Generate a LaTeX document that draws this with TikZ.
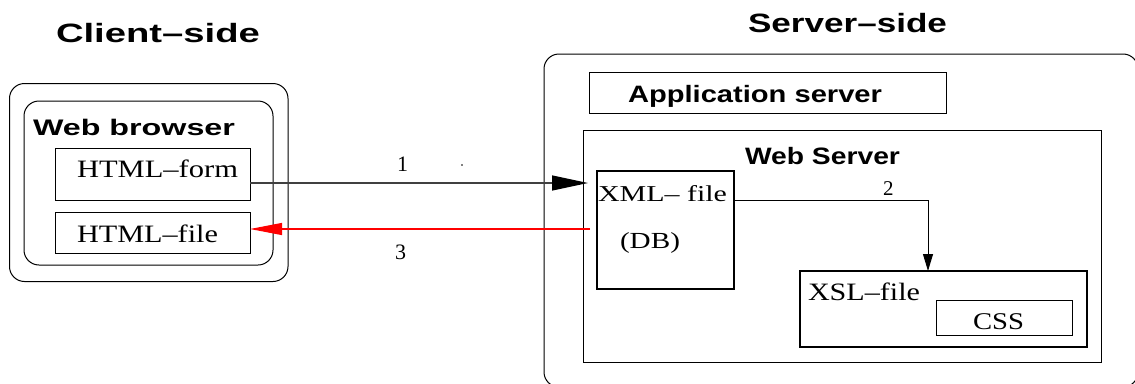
\documentclass[tikz,border=0pt]{standalone}
\usepackage{fontspec}
\setmainfont{Liberation Serif}
\newfontfamily\hvsans{Liberation Sans}
\usepackage{graphicx}
\usetikzlibrary{arrows.meta}
% stretch a label horizontally to a given width (in pt), keeping its height
\newcommand\widetext[2]{\resizebox{#1pt}{\height}{#2}}

\begin{document}
\begin{tikzpicture}[x=1pt,y=-1pt,
  box/.style={draw, line width=1pt, inner sep=0pt, outer sep=0pt},
  roundbox/.style={box, rounded corners=15pt},
  thickbox/.style={box, line width=2.5pt},
  lbl/.style={inner sep=0pt, outer sep=0pt, anchor=base west},
  head/.style={lbl, font=\hvsans\bfseries\fontsize{#1pt}{#1pt}\selectfont},
  serif/.style={lbl, font=\fontsize{#1pt}{#1pt}\selectfont},
  request/.style={draw=black!75, line width=1.3pt,
    -{Triangle[length=36pt,width=15pt,fill=black,color=black]}},
  reply/.style={draw=red, line width=1.2pt,
    -{Triangle[length=32pt,width=12pt]}},
  transform/.style={draw=black, line width=1pt,
    -{Triangle[length=17pt,width=10pt]}}
]
\useasboundingbox (0,0) rectangle (1135,383);
\clip (0,0) rectangle (1135,383);

% ---------------- client side ----------------
\node[head=26.5] (clienttitle) at (56,42) {\widetext{204}{Client–side}};
\node[roundbox, minimum width=278.5pt, minimum height=198pt] (client) at (148.75,182.5) {};
\node[roundbox, minimum width=249pt, minimum height=164pt] (browser) at (148.5,183) {};
\node[head=22.5] (browsertitle) at (33,135) {\widetext{202}{Web browser}};
\node[box, minimum width=195pt, minimum height=52pt] (form) at (152.5,174) {};
\node[serif=25] (formtext) at (77,177) {\widetext{161}{HTML–form}};
\node[box, minimum width=195pt, minimum height=41pt] (file) at (152.5,232.5) {};
\node[serif=25] (filetext) at (77,242) {\widetext{141}{HTML–file}};

% ---------------- server side ----------------
\node[head=26.5] (servertitle) at (748,32) {\widetext{199}{Server–side}};
\node[roundbox, minimum width=594pt, minimum height=333pt] (server) at (841,220.5) {};
\node[box, minimum width=357pt, minimum height=41pt] (app) at (767.5,92.5) {};
\node[head=23.7] (apptext) at (628,102) {\widetext{254}{Application server}};
\node[box, minimum width=518pt, minimum height=232pt] (websrv) at (842,246) {};
\node[head=23.7] (websrvtext) at (745,164) {\widetext{155}{Web Server}};

\node[thickbox, minimum width=137pt, minimum height=118pt] (xml) at (665.5,230) {};
\node[serif=22.7] (xmltext) at (598,201) {\widetext{129}{XML– file}};
\node[serif=23] (dbtext) at (620,248) {\widetext{60}{(DB)}};

\node[thickbox, minimum width=287pt, minimum height=76pt] (xsl) at (943.5,309) {};
\node[serif=25] (xsltext) at (808,300) {\widetext{112}{XSL–file}};
\node[box, minimum width=136pt, minimum height=35pt] (css) at (1004,317.5) {};
\node[serif=24] (csstext) at (973,329) {\widetext{51}{CSS}};

% ---------------- connectors ----------------
\coordinate (reqend) at (588,183);
\coordinate (repstart) at (590,229);
\coordinate (bend) at (928,200);

\draw[request] (form.east |- reqend) -- (reqend);
\draw[reply] (repstart) -- (file.east |- repstart);
\draw[transform] (xml.east |- bend) -- (bend) -- (xsl.north -| bend);

\node[serif=22] (one) at (397,171) {1};
\node[serif=22] (three) at (395,259) {3};
\node[serif=21] (two) at (883,195) {2};
\fill (462,165) circle (0.9pt);
\end{tikzpicture}
\end{document}
